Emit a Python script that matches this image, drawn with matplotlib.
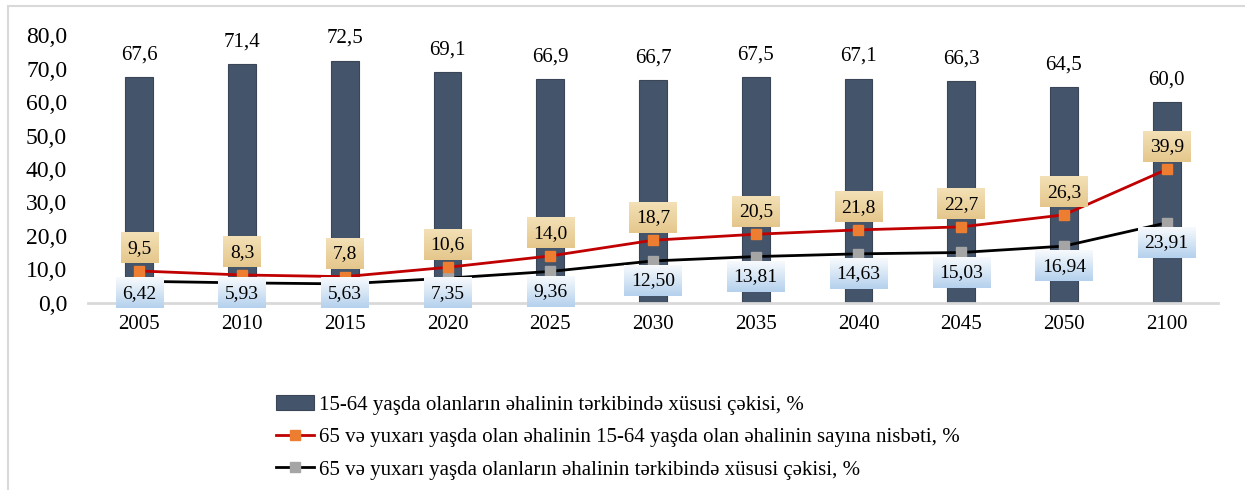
import numpy as np
import matplotlib.pyplot as plt
from matplotlib.patches import Rectangle
from matplotlib.lines import Line2D

# data
years = ["2005", "2010", "2015", "2020", "2025", "2030", "2035", "2040", "2045", "2050", "2100"]
share_15_64 = [67.6, 71.4, 72.5, 69.1, 66.9, 66.7, 67.5, 67.1, 66.3, 64.5, 60.0]
ratio_65 = [9.5, 8.3, 7.8, 10.6, 14.0, 18.7, 20.5, 21.8, 22.7, 26.3, 39.9]
share_65 = [6.42, 5.93, 5.63, 7.35, 9.36, 12.50, 13.81, 14.63, 15.03, 16.94, 23.91]
series_names = [
    "15-64 yaşda olanların əhalinin tərkibində xüsusi çəkisi, %",
    "65 və yuxarı yaşda olan əhalinin 15-64 yaşda olan əhalinin sayına nisbəti, %",
    "65 və yuxarı yaşda olanların əhalinin tərkibində xüsusi çəkisi, %",
]

plt.rcParams['font.family'] = ['Liberation Serif', 'DejaVu Serif']

W, H = 1245, 490
fig = plt.figure(figsize=(W / 100, H / 100), dpi=100)
ax = fig.add_axes([88 / W, 1 - 302.7 / H, 1130 / W, 267.2 / H])

x = np.arange(len(years))
ax.bar(x, share_15_64, width=0.27, color='#44546A', edgecolor='#3A4557', linewidth=0.8, zorder=2)
ax.plot(x, share_65, color='black', lw=2, marker='s', ms=6.5, mfc='#A5A5A5', mec='#A5A5A5', zorder=3)
ax.plot(x, ratio_65, color='#C00000', lw=2, marker='s', ms=6.5, mfc='#ED7D31', mec='#ED7D31', zorder=4)

def fmt(v, d):
    return f"{v:.{d}f}".replace('.', ',')

# bar labels
for xi, v in zip(x, share_15_64):
    ax.annotate(fmt(v, 1), (xi, v), xytext=(0, 16), textcoords='offset points',
                ha='center', va='center', fontsize=15)

# boxed labels for the two lines
boxed = []
for xi, v in zip(x, ratio_65):
    t = ax.text(xi, v + 6.8, fmt(v, 1), ha='center', va='center', fontsize=14, zorder=7,
                bbox=dict(boxstyle='square,pad=0.34', fc='none', ec='none'))
    boxed.append((t, '#F3E0B6', '#E5C78C'))
for xi, v in zip(x, share_65):
    t = ax.text(xi, max(v - 6.0, 2.8), fmt(v, 2), ha='center', va='center', fontsize=14,
                zorder=7, bbox=dict(boxstyle='square,pad=0.34', fc='none', ec='none'))
    boxed.append((t, '#F7FAFD', '#B5D1ED'))

ax.set_xlim(-0.5, len(years) - 0.5)
ax.set_ylim(0, 80)
ax.set_autoscale_on(False)
ax.set_yticks(np.arange(0, 81, 10))
ax.set_yticklabels([fmt(v, 1) for v in np.arange(0, 81, 10)])
ax.set_xticks(x)
ax.set_xticklabels(years)
ax.tick_params(axis='y', length=0, pad=15, labelsize=17)
ax.tick_params(axis='x', length=0, pad=9, labelsize=15)
for s in ['top', 'right', 'left']:
    ax.spines[s].set_visible(False)
ax.spines['bottom'].set_color('#D9D9D9')
ax.spines['bottom'].set_linewidth(2)

# gradient fills behind the boxed labels
fig.canvas.draw()
inv = ax.transData.inverted()
for t, top, bot in boxed:
    ext = t.get_bbox_patch().get_window_extent()
    (x0, y0), (x1, y1) = inv.transform([[ext.x0, ext.y0], [ext.x1, ext.y1]])
    c_top = np.array(plt.matplotlib.colors.to_rgb(top))
    c_bot = np.array(plt.matplotlib.colors.to_rgb(bot))
    k = np.linspace(0, 1, 32)[:, None]
    grad = (c_top * (1 - k) + c_bot * k)[:, None, :]
    ax.imshow(grad, extent=(x0, x1, y0, y1), aspect='auto', origin='upper', zorder=6, clip_on=False)
ax.set_xlim(-0.5, len(years) - 0.5)
ax.set_ylim(0, 80)

handles = [
    Rectangle((0, 0), 1, 1, fc='#44546A', ec='#3A4557', lw=0.8),
    Line2D([], [], color='#C00000', lw=2, marker='s', ms=7, mfc='#ED7D31', mec='#ED7D31'),
    Line2D([], [], color='black', lw=2, marker='s', ms=7, mfc='#A5A5A5', mec='#A5A5A5'),
]
fig.legend(handles, series_names, loc='upper left', bbox_to_anchor=(276 / W, 1 - 395 / H),
           frameon=False, fontsize=15, handlelength=1.8, handletextpad=0.25,
           labelspacing=0.62, borderpad=0, borderaxespad=0)

# outer frame (left and top edges visible)
fig.add_artist(Rectangle((8 / W, -0.5), 2, 0.5 + 1 - 6 / H, transform=fig.transFigure,
                         fill=False, ec='#D9D9D9', lw=1.5))

fig.savefig('out.png', dpi=100)
